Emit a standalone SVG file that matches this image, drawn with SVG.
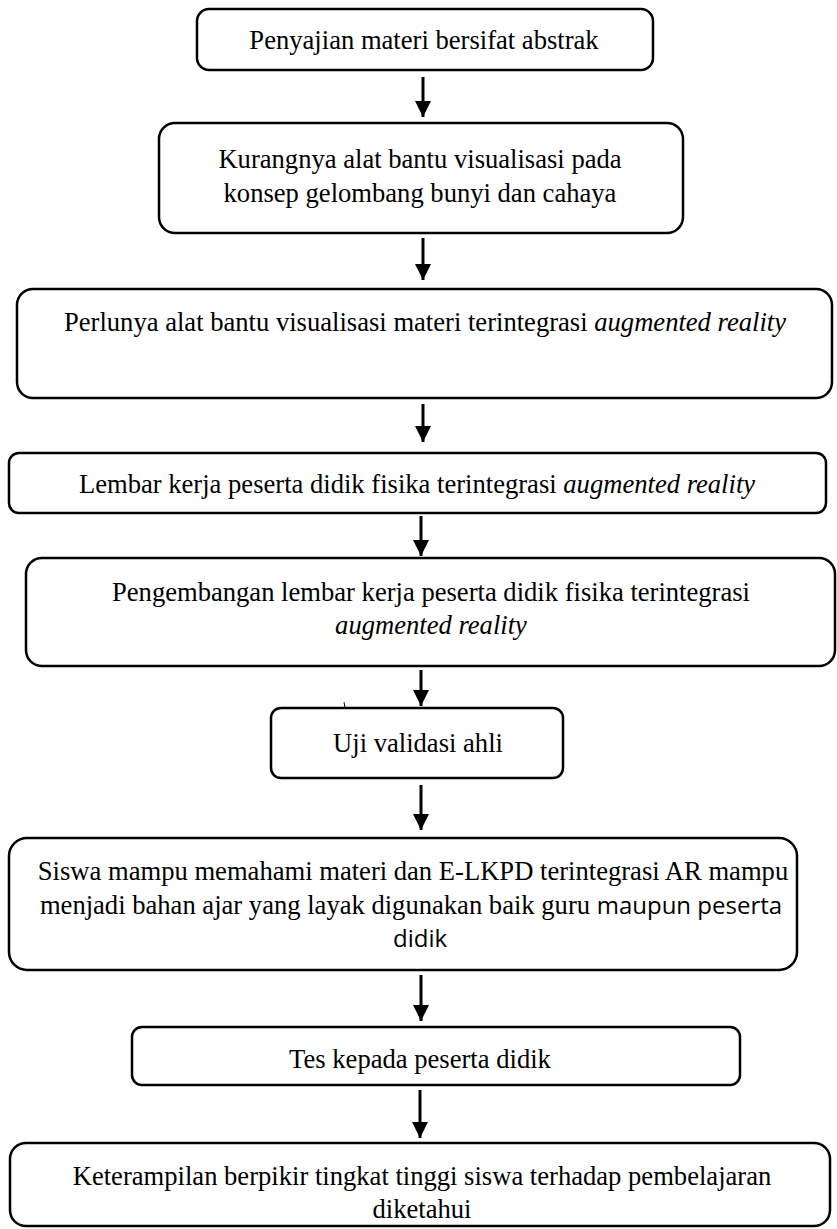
<svg xmlns="http://www.w3.org/2000/svg" width="837" height="1229" viewBox="0 0 837 1229">
<defs>
<style>
.box{fill:#fff;stroke:#000;stroke-width:2.5}
.t{font-family:"Liberation Serif","Times New Roman",serif;font-size:26.6px;fill:#000;text-anchor:middle}
.s{font-family:"Open Sans","Noto Sans",sans-serif;font-size:24px}
.i{font-style:italic}
.c{stroke:#000;stroke-width:3;fill:none;marker-end:url(#ah)}
</style>
<marker id="ah" markerUnits="userSpaceOnUse" markerWidth="16" markerHeight="16" refX="16" refY="8" orient="auto">
<path d="M0,0 L16,8 L0,16 Z" fill="#000"/>
</marker>
</defs>
<rect width="837" height="1229" fill="#fff"/>
<g id="connectors">
<line class="c" x1="423" y1="77" x2="423" y2="117"/>
<line class="c" x1="423" y1="238" x2="423" y2="280"/>
<line class="c" x1="423" y1="404" x2="423" y2="442"/>
<line class="c" x1="421" y1="516" x2="421" y2="556"/>
<line class="c" x1="421" y1="670" x2="421" y2="706"/>
<line class="c" x1="421" y1="785" x2="421" y2="830"/>
<line class="c" x1="421" y1="975" x2="421" y2="1021"/>
<line class="c" x1="420" y1="1090" x2="420" y2="1138"/>
<line x1="344" y1="702" x2="345" y2="708" stroke="#000" stroke-width="1"/>
</g>
<g id="n1">
<rect class="box" x="197" y="9" width="456" height="61" rx="12"/>
<text class="t" x="424" y="49">Penyajian materi bersifat abstrak</text>
</g>
<g id="n2">
<rect class="box" x="159" y="123" width="524" height="110" rx="16"/>
<text class="t" x="420" y="168">Kurangnya alat bantu visualisasi pada</text>
<text class="t" x="420" y="202">konsep gelombang bunyi dan cahaya</text>
</g>
<g id="n3">
<rect class="box" x="17" y="289" width="815" height="109" rx="16"/>
<text class="t" x="425" y="331">Perlunya alat bantu visualisasi materi terintegrasi <tspan class="i">augmented reality</tspan></text>
</g>
<g id="n4">
<rect class="box" x="9" y="453" width="817" height="60" rx="10"/>
<text class="t" x="417" y="493">Lembar kerja peserta didik fisika terintegrasi <tspan class="i">augmented reality</tspan></text>
</g>
<g id="n5">
<rect class="box" x="26" y="558" width="809" height="108" rx="16"/>
<text class="t" x="431" y="601">Pengembangan lembar kerja peserta didik fisika terintegrasi</text>
<text class="t i" x="431" y="634">augmented reality</text>
</g>
<g id="n6">
<rect class="box" x="271" y="708" width="292" height="70" rx="10"/>
<text class="t" x="418" y="752">Uji validasi ahli</text>
</g>
<g id="n7">
<rect class="box" x="9" y="838" width="788" height="132" rx="18"/>
<text class="t" x="413" y="880">Siswa mampu memahami materi dan E-LKPD terintegrasi AR mampu</text>
<text class="t" x="411" y="914">menjadi bahan ajar yang layak digunakan baik guru <tspan class="s">maupun peserta</tspan></text>
<text class="t s" x="420" y="947">didik</text>
</g>
<g id="n8">
<rect class="box" x="132" y="1027" width="608" height="58" rx="10"/>
<text class="t" x="420" y="1068">Tes kepada peserta didik</text>
</g>
<g id="n9">
<rect class="box" x="10" y="1143" width="820" height="83" rx="16"/>
<text class="t" x="422" y="1185">Keterampilan berpikir tingkat tinggi siswa terhadap pembelajaran</text>
<text class="t" x="422" y="1218">diketahui</text>
</g>
</svg>
